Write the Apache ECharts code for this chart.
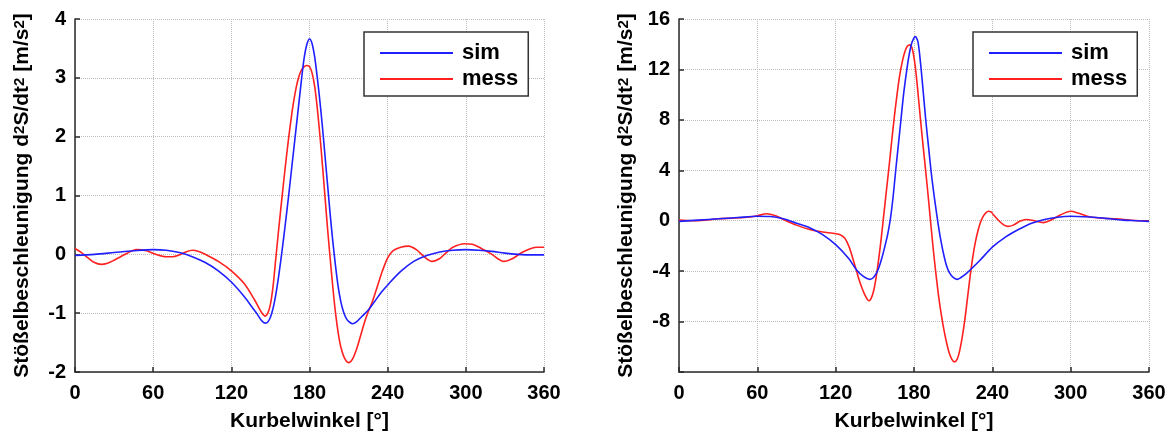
<!DOCTYPE html>
<html>
<head>
<meta charset="utf-8">
<script src="https://cdn.jsdelivr.net/npm/echarts@6/dist/echarts.min.js"></script>
<style>
html,body{margin:0;padding:0;background:#fff;}
#chart{width:1172px;height:437px;}
</style>
</head>
<body>
<div id="chart"></div>
<script>
// ---- data (angle in degrees, acceleration in m/s^2) ----
const xTicks = [0, 60, 120, 180, 240, 300, 360];
const legendNames = ['sim', 'mess'];

const leftSimAngle = [0,15,30,45,60,70,80,90,100,110,120,130,136,140,143,146,148,150,152,154,156,158,160,162,164,166,168,170,172,174,176,178,180,182,184,186,188,190,192,194,196,198,200,202,204,206,208,210,213,216,220,225,230,235,240,250,260,270,280,290,300,310,320,330,340,350,360];
const leftSimValue = [-0.02,0.0,0.03,0.06,0.08,0.07,0.03,-0.04,-0.14,-0.28,-0.47,-0.72,-0.9,-1.02,-1.12,-1.17,-1.15,-1.07,-0.92,-0.7,-0.42,-0.1,0.25,0.62,1.0,1.4,1.8,2.2,2.6,3.0,3.35,3.57,3.66,3.58,3.35,3.0,2.6,2.15,1.65,1.15,0.65,0.2,-0.2,-0.55,-0.8,-0.97,-1.08,-1.14,-1.18,-1.15,-1.06,-0.95,-0.8,-0.65,-0.52,-0.29,-0.12,-0.02,0.04,0.07,0.08,0.07,0.05,0.02,0.0,-0.01,-0.01];

const leftMessAngle = [0,5,10,15,20,25,30,35,40,47,55,62,70,75,80,85,90,95,100,110,120,130,138,143,146,148,150,152,154,156,158,160,162,164,166,168,170,172,174,176,178,180,182,184,186,188,190,192,194,196,198,200,202,204,207,210,213,216,219,222,225,228,232,236,240,244,250,256,262,268,274,280,285,290,299,305,312,320,329,336,343,350,355,360];
const leftMessValue = [0.1,0.03,-0.06,-0.14,-0.17,-0.15,-0.1,-0.04,0.02,0.08,0.06,0.0,-0.04,-0.04,-0.01,0.04,0.07,0.05,0.0,-0.12,-0.28,-0.5,-0.78,-0.98,-1.05,-1.0,-0.85,-0.55,-0.1,0.35,0.78,1.2,1.6,1.98,2.32,2.62,2.86,3.03,3.14,3.19,3.21,3.19,3.08,2.85,2.48,2.02,1.5,0.95,0.4,-0.1,-0.58,-1.0,-1.33,-1.57,-1.77,-1.84,-1.78,-1.62,-1.4,-1.17,-0.98,-0.82,-0.55,-0.28,-0.06,0.06,0.12,0.14,0.08,-0.04,-0.12,-0.07,0.03,0.12,0.18,0.17,0.1,0.0,-0.12,-0.07,0.03,0.1,0.12,0.12];

const rightSimAngle = [0,15,30,45,60,70,80,90,100,110,120,130,136,141,146,149,152,155,158,160,162,164,166,168,170,172,174,176,178,180,181,183,185,187,189,191,193,195,197,199,201,203,205,207,210,213,216,220,230,240,250,260,270,280,290,300,310,320,330,340,350,360];
const rightSimValue = [-0.05,0.05,0.15,0.25,0.35,0.33,0.15,-0.2,-0.55,-1.1,-1.9,-3.0,-3.9,-4.4,-4.65,-4.5,-4.0,-3.1,-1.9,-1.0,0.2,1.9,4.0,6.0,8.0,10.0,11.6,13.0,14.0,14.5,14.6,14.2,12.5,10.3,8.0,6.0,4.0,2.3,0.8,-0.6,-1.8,-2.8,-3.6,-4.1,-4.5,-4.65,-4.5,-4.2,-3.2,-2.1,-1.3,-0.7,-0.2,0.1,0.28,0.35,0.32,0.25,0.15,0.05,0.0,-0.05];

const rightMessAngle = [0,10,20,30,40,50,60,67,75,80,90,100,110,118,123,127,130,132,134,136,138,140,142,144,145.5,147,149,151,153,155,157,159,161,163,165,167,169,171,173,175,177,179,181,183,185,187,189,191,193,195,197,199,201,203,205,207,209,211,213,215,217,219,221,223,225,227,229,231,233,235,237,239,241,245,249,252,256,261,266,272,279,285,292,300,306,315,325,335,345,352,360];
const rightMessValue = [0.05,0.0,0.05,0.15,0.2,0.25,0.4,0.55,0.35,0.1,-0.35,-0.7,-0.9,-1.0,-1.1,-1.4,-2.0,-2.6,-3.3,-4.0,-4.7,-5.3,-5.8,-6.2,-6.35,-6.2,-5.6,-4.5,-3.0,-1.3,0.6,2.5,4.4,6.4,8.3,10.0,11.5,12.6,13.4,13.85,13.95,13.5,12.2,10.2,8.0,5.9,3.9,1.8,-0.4,-2.5,-4.4,-6.1,-7.5,-8.7,-9.7,-10.5,-11.0,-11.2,-11.0,-10.3,-9.2,-7.8,-6.1,-4.4,-2.9,-1.7,-0.8,-0.1,0.35,0.62,0.75,0.7,0.45,0.0,-0.35,-0.45,-0.35,-0.05,0.1,0.0,-0.15,0.05,0.45,0.75,0.6,0.3,0.2,0.15,0.05,0.0,0.0];

// ---- helpers ----
function pairs(xs, ys) { return xs.map((x, i) => [x, ys[i]]); }

const FONT = "'Liberation Sans', Arial, Helvetica, sans-serif";
const BLUE = '#1f1fff';
const RED = '#ff2020';
const AXIS = '#2a2a2a';

const yName = 'Stößelbeschleunigung d{sup|2}S/dt{sup|2} [m/s{sup|2}]';
const nameStyle = {
  fontFamily: FONT, fontSize: 21, fontWeight: 'bold', color: '#000',
  rich: { sup: { fontFamily: FONT, fontSize: 15, fontWeight: 'bold', color: '#000', verticalAlign: 'top', lineHeight: 15, padding: [0, 0, 10, 0] } }
};

function xAxis(gridIndex) {
  return {
    type: 'value', gridIndex, min: 0, max: 360, interval: 60,
    name: 'Kurbelwinkel [°]', nameLocation: 'middle', nameGap: 39,
    nameTextStyle: { fontFamily: FONT, fontSize: 21, fontWeight: 'bold', color: '#000' },
    axisLine: { show: true, onZero: false, lineStyle: { color: AXIS, width: 1.5 } },
    axisTick: { show: true, inside: true, length: 5, lineStyle: { color: AXIS, width: 1.5 } },
    axisLabel: { fontFamily: FONT, fontSize: 20, fontWeight: 'bold', color: '#000', margin: 11,
      formatter: v => xTicks.includes(v) ? String(v) : '' },
    splitLine: { show: true, lineStyle: { color: '#bdbdbd', type: 'dotted', width: 1 } }
  };
}
function yAxis(gridIndex, min, max, interval, hideMin) {
  return {
    type: 'value', gridIndex, min, max, interval,
    name: yName, nameLocation: 'middle', nameGap: 42, nameRotate: 90,
    nameTextStyle: nameStyle,
    axisLine: { show: true, onZero: false, lineStyle: { color: AXIS, width: 1.5 } },
    axisTick: { show: true, inside: true, length: 5, lineStyle: { color: AXIS, width: 1.5 } },
    axisLabel: { fontFamily: FONT, fontSize: 20, fontWeight: 'bold', color: '#000', margin: 9,
      formatter: v => (hideMin && v === min) ? '' : String(v) },
    splitLine: { show: true, lineStyle: { color: '#bdbdbd', type: 'dotted', width: 1 } }
  };
}
function line(name, data, color, xi) {
  return {
    type: 'line', name, data, xAxisIndex: xi, yAxisIndex: xi,
    showSymbol: false, symbol: 'none', smooth: 0.3,
    lineStyle: { color, width: 1.6 }, itemStyle: { color },
    animation: false, z: name === 'sim' ? 3 : 2
  };
}
function legend(left) {
  return {
    orient: 'vertical', left, top: 32,
    data: legendNames.map(n => ({ name: n, icon: 'rect' })), selectedMode: false,
    backgroundColor: '#fff', borderColor: '#333', borderWidth: 1.5, borderRadius: 0,
    padding: [10, 10, 6, 16], itemGap: 4, itemWidth: 73, itemHeight: 2,
    textStyle: { fontFamily: FONT, fontSize: 22, fontWeight: 'bold', color: '#000', padding: [0, 0, 0, 4] }
  };
}

const chart = echarts.init(document.getElementById('chart'), null, { renderer: 'canvas' });
chart.setOption({
  animation: false,
  backgroundColor: '#fff',
  grid: [
    { left: 75, top: 19, width: 469, height: 357 },
    { left: 679, top: 19, width: 470, height: 357 }
  ],
  legend: [legend(364), legend(973)],
  xAxis: [xAxis(0), xAxis(1)],
  yAxis: [yAxis(0, -2, 4, 1, false), yAxis(1, -12, 16, 4, true)],
  series: [
    line('sim', pairs(leftSimAngle, leftSimValue), BLUE, 0),
    line('mess', pairs(leftMessAngle, leftMessValue), RED, 0),
    line('sim', pairs(rightSimAngle, rightSimValue), BLUE, 1),
    line('mess', pairs(rightMessAngle, rightMessValue), RED, 1)
  ]
});
</script>
</body>
</html>
